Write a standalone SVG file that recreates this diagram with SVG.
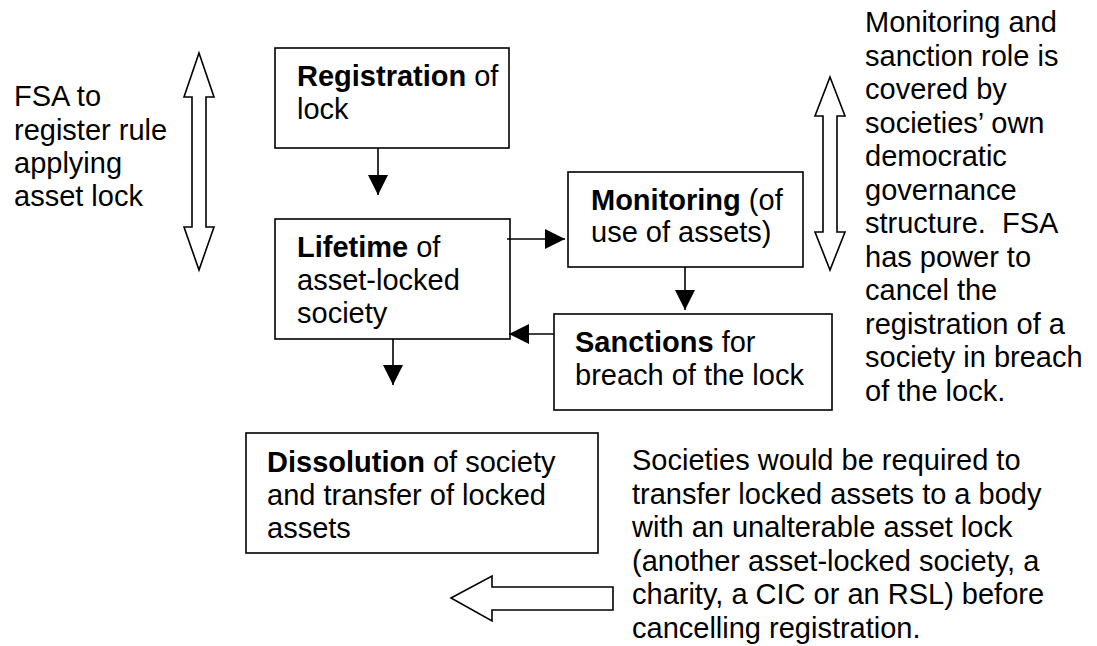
<svg xmlns="http://www.w3.org/2000/svg" width="1097" height="646" viewBox="0 0 1097 646">
  <style>
    text { font-family: "Liberation Sans", Arial, sans-serif; font-size: 29px; fill: #000; }
    .b { font-weight: bold; }
    .box { fill: #fff; stroke: #000; stroke-width: 1.6; }
    .block { fill: #fff; stroke: #000; stroke-width: 1.6; stroke-linejoin: miter; }
    .conn { stroke: #000; stroke-width: 1.6; fill: none; marker-end: url(#head); }
  </style>
  <defs>
    <marker id="head" markerUnits="userSpaceOnUse" markerWidth="20" markerHeight="20" refX="20" refY="10" orient="auto">
      <path d="M0,0 L20,10 L0,20 z" fill="#000"/>
    </marker>
  </defs>
  <rect width="1097" height="646" fill="#fff"/>

  <!-- side notes -->
  <g id="note-fsa">
    <text x="14" y="106">FSA to</text>
    <text x="14" y="139.5">register rule</text>
    <text x="14" y="173">applying</text>
    <text x="14" y="206">asset lock</text>
  </g>
  <g id="note-monitoring">
    <text x="865" y="32">Monitoring and</text>
    <text x="865" y="65.5">sanction role is</text>
    <text x="865" y="99">covered by</text>
    <text x="865" y="132.5">societies’ own</text>
    <text x="865" y="166">democratic</text>
    <text x="865" y="199.5">governance</text>
    <text x="865" y="233" xml:space="preserve">structure.  FSA</text>
    <text x="865" y="266.5">has power to</text>
    <text x="865" y="300">cancel the</text>
    <text x="865" y="333.5">registration of a</text>
    <text x="865" y="367">society in breach</text>
    <text x="865" y="400.5">of the lock.</text>
  </g>
  <g id="note-dissolution">
    <text x="632" y="470">Societies would be required to</text>
    <text x="632" y="503.5">transfer locked assets to a body</text>
    <text x="632" y="537">with an unalterable asset lock</text>
    <text x="632" y="570.5">(another asset-locked society, a</text>
    <text x="632" y="604">charity, a CIC or an RSL) before</text>
    <text x="632" y="637.5">cancelling registration.</text>
  </g>

  <!-- hollow block arrows -->
  <g id="span-fsa">
    <polygon class="block" points="199,53 214,97 206,97 206,227 214,227 199,270 184,227 192,227 192,97 184,97"/>
  </g>
  <g id="span-monitoring">
    <polygon class="block" points="830,77 845,116 837,116 837,232 845,232 830,270 815,232 823,232 823,116 815,116"/>
  </g>
  <g id="to-dissolution">
    <polygon class="block" points="451,598 492,576 492,587 613,587 613,610 492,610 492,621"/>
  </g>

  <!-- process boxes -->
  <g id="registration">
    <rect class="box" x="275" y="48" width="234" height="100"/>
    <text x="297" y="86"><tspan class="b">Registration</tspan> of</text>
    <text x="297" y="119">lock</text>
  </g>
  <g id="lifetime">
    <rect class="box" x="275" y="219" width="235" height="120"/>
    <text x="297" y="257"><tspan class="b">Lifetime</tspan> of</text>
    <text x="297" y="290">asset-locked</text>
    <text x="297" y="323">society</text>
  </g>
  <g id="monitoring">
    <rect class="box" x="568" y="172" width="235" height="95"/>
    <text x="591" y="210"><tspan class="b">Monitoring</tspan> (of</text>
    <text x="591" y="242">use of assets)</text>
  </g>
  <g id="sanctions">
    <rect class="box" x="554" y="314" width="278" height="96"/>
    <text x="575" y="352"><tspan class="b">Sanctions</tspan> for</text>
    <text x="575" y="385">breach of the lock</text>
  </g>
  <g id="dissolution">
    <rect class="box" x="246" y="433" width="352" height="120"/>
    <text x="267" y="472"><tspan class="b">Dissolution</tspan> of society</text>
    <text x="267" y="505">and transfer of locked</text>
    <text x="267" y="538">assets</text>
  </g>

  <!-- connectors -->
  <g id="connectors">
    <line class="conn" x1="378" y1="148" x2="378" y2="195"/>
    <line class="conn" x1="507" y1="239" x2="565" y2="239"/>
    <line class="conn" x1="685" y1="267" x2="685" y2="310"/>
    <line class="conn" x1="554" y1="334" x2="509" y2="334"/>
    <line class="conn" x1="393" y1="339" x2="393" y2="385"/>
  </g>
</svg>
